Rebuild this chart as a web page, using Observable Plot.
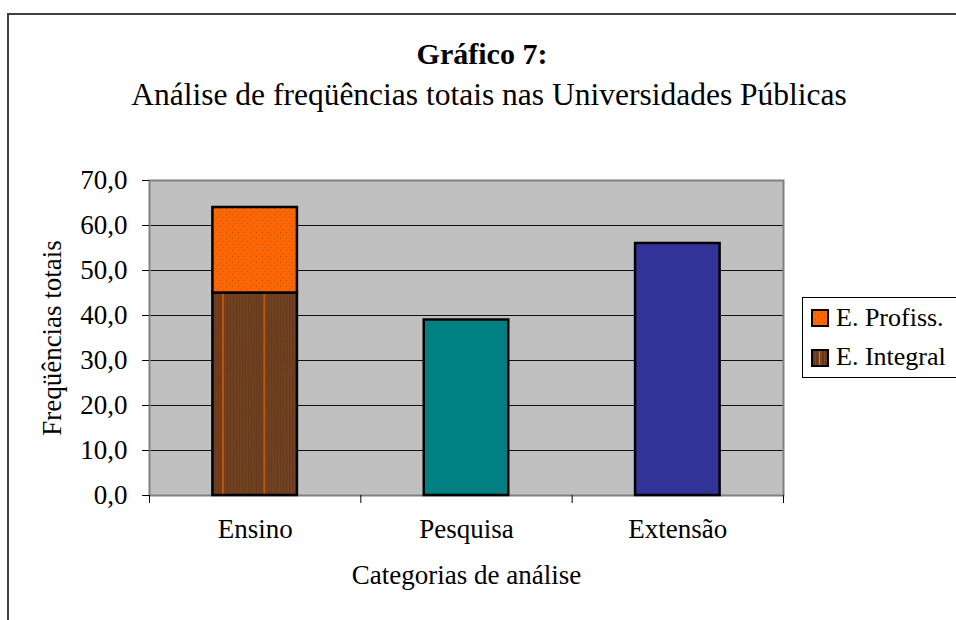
<!DOCTYPE html>
<html><head><meta charset="utf-8">
<script src="https://cdn.jsdelivr.net/npm/d3@7"></script>
<script src="https://cdn.jsdelivr.net/npm/@observablehq/plot@0.6"></script>
<style>
body{margin:0;background:#fff;font-family:"Liberation Serif","Times New Roman",serif;color:#000}
#wrap{position:relative;width:956px;height:620px;overflow:hidden;background:#fff}
#frame{position:absolute;left:7px;top:13px;width:1000px;height:700px;border-left:2px solid #404040;border-top:2px solid #404040}
.ttl{position:absolute;left:8px;width:948px;text-align:center;white-space:nowrap}
#title{top:37px;font-weight:bold;font-size:30px;line-height:34px}
#subtitle{left:15px;top:77px;font-size:31.5px;line-height:36px}
#chart{position:absolute;left:0;top:0}
#legend{position:absolute;left:802px;top:297px;width:156px;height:81px;border:1px solid #000;background:#fff;box-sizing:border-box}
.sw{position:absolute;left:8px}
.lab{position:absolute;left:33px;font-size:26px;line-height:26px;white-space:nowrap}
</style></head>
<body>
<svg width="0" height="0" style="position:absolute">
  <defs>
    <pattern id="pDots" width="6" height="6" patternUnits="userSpaceOnUse">
      <rect width="6" height="6" fill="#FF6600"/>
      <rect x="1" y="1" width="1" height="1" fill="#A0552A"/>
      <rect x="4" y="4" width="1" height="1" fill="#A0552A"/>
    </pattern>
    <pattern id="pTex" width="3" height="2" patternUnits="userSpaceOnUse">
      <rect width="3" height="2" fill="#704221"/>
      <rect x="0" y="0" width="1" height="1" fill="#5A3015"/>
      <rect x="2" y="1" width="1" height="1" fill="#5A3015"/>
      <rect x="1" y="1" width="1" height="1" fill="#80502C"/>
    </pattern>
    <pattern id="pInt" patternUnits="objectBoundingBox" width="0.488" height="1" patternContentUnits="userSpaceOnUse">
      <rect width="60" height="3000" fill="url(#pTex)"/>
      <rect x="10" width="1.2" height="3000" fill="#FF6600"/>
    </pattern>
    <pattern id="pIntSw" width="17" height="17" patternUnits="userSpaceOnUse">
      <rect width="17" height="17" fill="url(#pTex)"/>
      <rect x="8" width="1.2" height="17" fill="#FF6600"/>
    </pattern>
  </defs>
</svg>
<div id="wrap">
  <div id="frame"></div>
  <div class="ttl" id="title">Gráfico 7:</div>
  <div class="ttl" id="subtitle">Análise de freqüências totais nas Universidades Públicas</div>
  <div id="chart"></div>
  <div id="legend"></div>
</div>
<script>
// ---- data ----
const categories = ["Ensino", "Pesquisa", "Extensão"];
const eIntegral = [45.0, 0, 0];
const eProfiss  = [19.0, 0, 0];
const pesquisa  = [0, 39.0, 0];
const extensao  = [0, 0, 56.0];
const yTicks = [0, 10, 20, 30, 40, 50, 60, 70];
const legendLabels = ["E. Profiss.", "E. Integral"];
const yLabel = "Freqüências totais";
const xLabel = "Categorias de análise";

// series in stacking order (bottom to top)
const series = [
  {values: eIntegral, fill: "url(#pInt)"},
  {values: eProfiss, fill: "url(#pDots)"},
  {values: pesquisa, fill: "#008080"},
  {values: extensao, fill: "#333399"}
];
const base = categories.map(() => 0);
const seriesRows = series.map(s => {
  const rows = [];
  s.values.forEach((v, i) => {
    if (v > 0) {
      rows.push({i, y1: base[i], y2: base[i] + v});
      base[i] += v;
    }
  });
  return rows;
});

const font = "Liberation Serif, Times New Roman, serif";
const fmt = d => d.toFixed(1).replace(".", ",");
const txt = {fontFamily: font, fontSize: 27, fill: "#000"};

const plot = Plot.plot({
  width: 956,
  height: 620,
  marginLeft: 149,
  marginRight: 173,
  marginTop: 180,
  marginBottom: 125,
  style: {background: "none", fontFamily: font, overflow: "visible"},
  x: {domain: [0, categories.length], axis: null},
  y: {domain: [0, 70], axis: null},
  marks: [
    Plot.frame({fill: "#C0C0C0", stroke: "none"}),
    Plot.ruleY(yTicks.filter(t => t > 0 && t < 70), {stroke: "#111", strokeWidth: 1}),
    Plot.frame({stroke: "#808080", strokeWidth: 2}),
    ...series.map((s, k) => Plot.rect(seriesRows[k], {
      x1: d => d.i + 0.3, x2: d => d.i + 0.7, y1: "y1", y2: "y2",
      fill: s.fill, stroke: "#000", strokeWidth: 2.5
    })),
    Plot.axisY({ticks: yTicks, tickFormat: fmt, tickSize: 7, tickPadding: 15, fontSize: 27, fontFamily: font, label: null, stroke: "#000", color: "#000"}),
    Plot.axisX({ticks: d3.range(categories.length + 1), tickFormat: () => "", tickSize: 8, label: null, stroke: "#000"}),
    Plot.text(categories, {x: (d, i) => i + 0.5, frameAnchor: "bottom", dy: 42, text: d => d, ...txt}),
    Plot.text([xLabel], {frameAnchor: "bottom", dy: 88, text: d => d, ...txt}),
    Plot.text([yLabel], {frameAnchor: "left", textAnchor: "middle", dx: -97, rotate: -90, text: d => d, ...txt})
  ]
});
document.getElementById("chart").appendChild(plot);

// legend
const legendFills = ["url(#pDots)", "url(#pIntSw)"];
const legend = document.getElementById("legend");
legendLabels.forEach((lab, k) => {
  const sw = document.createElementNS("http://www.w3.org/2000/svg", "svg");
  sw.setAttribute("class", "sw");
  sw.setAttribute("width", "18");
  sw.setAttribute("height", "18");
  sw.style.top = (11 + k * 40) + "px";
  sw.innerHTML = `<rect x="1" y="1" width="16" height="16" fill="${legendFills[k]}" stroke="#000" stroke-width="2"/>`;
  legend.appendChild(sw);
  const t = document.createElement("div");
  t.className = "lab";
  t.style.top = (7 + k * 39) + "px";
  t.textContent = lab;
  legend.appendChild(t);
});
</script>
</body></html>
